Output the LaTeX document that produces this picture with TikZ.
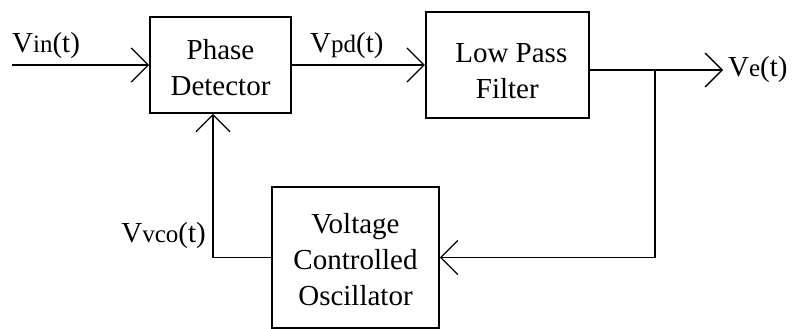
\documentclass[tikz,border=0pt]{standalone}
\usepackage{fontspec}
\setmainfont{Liberation Serif}
\usetikzlibrary{arrows.meta,positioning}
\newcommand{\sub}[1]{{\fontsize{25}{25}\selectfont #1}}

\begin{document}
\begin{tikzpicture}[x=1pt, y=-1pt,
  blk/.style={draw, line width=1.8pt, align=center, inner sep=0pt,
              font=\fontsize{29}{36}\selectfont},
  sig/.style={font=\fontsize{29}{36}\selectfont, inner sep=0pt},
  wire/.style={line width=1.8pt},
  arr/.style={wire, -{Straight Barb[length=17pt, width=34pt, line width=1.3pt]}}]
  \useasboundingbox (0,0) rectangle (793,329);
  \node[blk, minimum width=141pt, minimum height=96pt] (pd) at (220.5,65) {\rule{0pt}{26pt}Phase\\Detector};
  \node[blk, minimum width=163pt, minimum height=106pt, right=133pt of pd] (lpf) {\rule{0pt}{31pt}\hspace*{8pt}Low Pass\\Filter};
  \node[blk, minimum width=167pt, minimum height=141pt] (vco) at (355.5,257.5) {\rule{0pt}{24pt}Voltage\\Controlled\\Oscillator};
  \coordinate (in) at (12,65);
  \coordinate (br) at (655,70);
  \coordinate (out) at (723,70);
  \coordinate (fb) at (213,256);
  \draw[arr] (in) -- (pd);
  \draw[arr] (pd) -- (lpf);
  \draw[wire] (lpf.east |- br) -- (br);
  \draw[arr] (br) -- (out);
  \draw[arr] (br) |- (vco);
  \draw[arr] (vco.west) -| (fb |- pd.south);
  \node[sig, anchor=base west] (lin) at (12,53) {V\sub{in}(t)};
  \node[sig, anchor=base west] (lpd) at (310,53) {V\sub{pd}(t)};
  \node[sig, anchor=west] (le) at (728,70) {V\sub{e}(t)};
  \node[sig, anchor=base east] (lvco) at (206,242) {V\sub{vco}(t)};
\end{tikzpicture}
\end{document}
